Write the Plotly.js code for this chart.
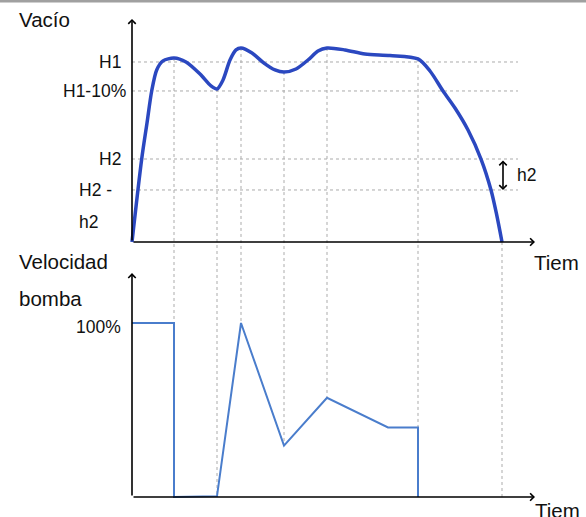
<!DOCTYPE html>
<html><head><meta charset="utf-8">
<script src="https://cdn.plot.ly/plotly-3.0.1.min.js"></script>
<style>html,body{margin:0;padding:0;background:#fff}#chart{width:586px;height:517px}</style>
</head><body><div id="chart"></div>
<script>
// ---- data (time in arbitrary units, vacuum as % of H1, pump speed in %) ----
const vacTime = [0,0.97,1.5,1.97,2.47,3.1,4.2,5.4,6.8,7.9,8.5,9.1,9.8,10.4,10.9,12.0,13.2,14.3,15.2,16.4,17.6,18.6,19.5,21.3,23.3,25.8,28.6,29.8,31.1,32.3,33.6,34.9,35.9,36.45,37.0];
const vacValue = [0,46.1,66.1,83.9,95.6,100.6,102.2,100,93.3,86.7,85,90,101.1,106.7,107.8,105,99.4,95.6,94.4,96.1,101.1,106.1,107.8,106.7,104.4,103.6,101.7,95,83.9,74.4,62.2,46.1,28.9,15.6,0];
const pumpTime = [0,4.2,4.2,8.5,10.9,15.2,19.5,25.6,28.6,28.6];
const pumpValue = [100,100,0,0.5,100,29.5,57,40,40,0];
const guideTime = [4.2,8.5,10.9,15.2,19.5,28.6,37.0];
const guideVac = [102.2,85,107.8,94.4,107.8,101.7,0];
const guidePump = [100,0,100,29.5,57,40,0];
const levelNames = ['H1','H1-10%','H2','H2 -'];
const levelValues = [100,83.9,46.1,28.9];
const h2Top = 46.1, h2Bottom = 28.9;
const timeEnd = 40.3, vacAxisTop = 123.9, pumpAxisTop = 128.7, levelEnd = 38.6, h2Time = 37.1;

// ---- axes geometry ----
const W = 586, H = 517;
const xr = [-13.2, 45.4];
const yr = [-152.78, 134.44];
const y2r = [-11.494, 285.63];
const pumpToVac = v => yr[0] + (v - y2r[0]) / (y2r[1] - y2r[0]) * (yr[1] - yr[0]);

const dashCol = '#ababab';
const traces = [];
levelValues.forEach(v => traces.push({x:[0, levelEnd], y:[v, v], xaxis:'x', yaxis:'y', mode:'lines',
  line:{color:dashCol, width:1, dash:'3px,3px'}, hoverinfo:'skip'}));
guideTime.forEach((t, i) => traces.push({x:[t, t], y:[guideVac[i], pumpToVac(guidePump[i])], xaxis:'x', yaxis:'y',
  mode:'lines', line:{color:dashCol, width:1, dash:'3px,3px'}, hoverinfo:'skip'}));
traces.push({x:vacTime, y:vacValue, xaxis:'x', yaxis:'y', mode:'lines',
  line:{color:'#2b48c0', width:3.5, shape:'spline', smoothing:0.8}});
traces.push({x:pumpTime, y:pumpValue, xaxis:'x', yaxis:'y2', mode:'lines',
  line:{color:'#4a7dcc', width:2}});

const px = x => x / W, py = y => 1 - y / H;
const txt = (text, x, y, anchor, size) => ({text, x:px(x), y:py(y), xref:'paper', yref:'paper',
  xanchor:anchor, yanchor:'middle', showarrow:false, font:{size, color:'#111'}});
const arrow = (x, y, ax, ay, yref, side) => ({x, y, ax, ay, xref:'x', yref, axref:'x', ayref:yref, text:'',
  showarrow:true, arrowhead:4, arrowsize:0.9, arrowwidth:1.6, arrowcolor:'#000', arrowside:side||'end',
  startarrowhead:4, startarrowsize:0.9, standoff:0, startstandoff:0});

const annotations = [
  arrow(0, vacAxisTop, 0, 0, 'y'),
  arrow(timeEnd, 0, 0, 0, 'y'),
  arrow(0, pumpAxisTop, 0, 0, 'y2'),
  arrow(timeEnd, 0, 0, 0, 'y2'),
  arrow(h2Time, h2Bottom, h2Time, h2Top, 'y', 'end+start'),
  txt('Vacío', 17, 20, 'left', 20.5),
  txt(levelNames[0], 123, 62, 'right', 17.5),
  txt(levelNames[1], 128, 91, 'right', 17.5),
  txt(levelNames[2], 123, 159, 'right', 17.5),
  txt(levelNames[3], 77, 190, 'left', 17.5),
  txt('h2', 77, 222, 'left', 17.5),
  txt('Velocidad', 17, 261, 'left', 20.5),
  txt('bomba', 17, 298, 'left', 20.5),
  txt('100%', 123, 327, 'right', 17.5),
  txt('Tiem', 532, 262, 'left', 20.5),
  txt('Tiem', 533, 510, 'left', 20.5),
  txt('h2', 515, 175, 'left', 17.5)
];

const layout = {
  width:W, height:H, margin:{l:0,r:0,t:0,b:0}, paper_bgcolor:'#fff', plot_bgcolor:'#fff',
  showlegend:false, font:{family:'Liberation Sans, Arial, sans-serif'},
  xaxis:{range:xr, domain:[0,1], visible:false, fixedrange:true},
  yaxis:{range:yr, domain:[0,1], visible:false, fixedrange:true},
  yaxis2:{range:y2r, domain:[0,1], overlaying:'y', visible:false, fixedrange:true},
  annotations,
  shapes:[{type:'rect', xref:'paper', yref:'paper', x0:0, x1:1, y0:py(2.5), y1:1, fillcolor:'#a0a0a0', line:{width:0}}]
};
Plotly.newPlot('chart', traces, layout, {staticPlot:true});
</script></body></html>
